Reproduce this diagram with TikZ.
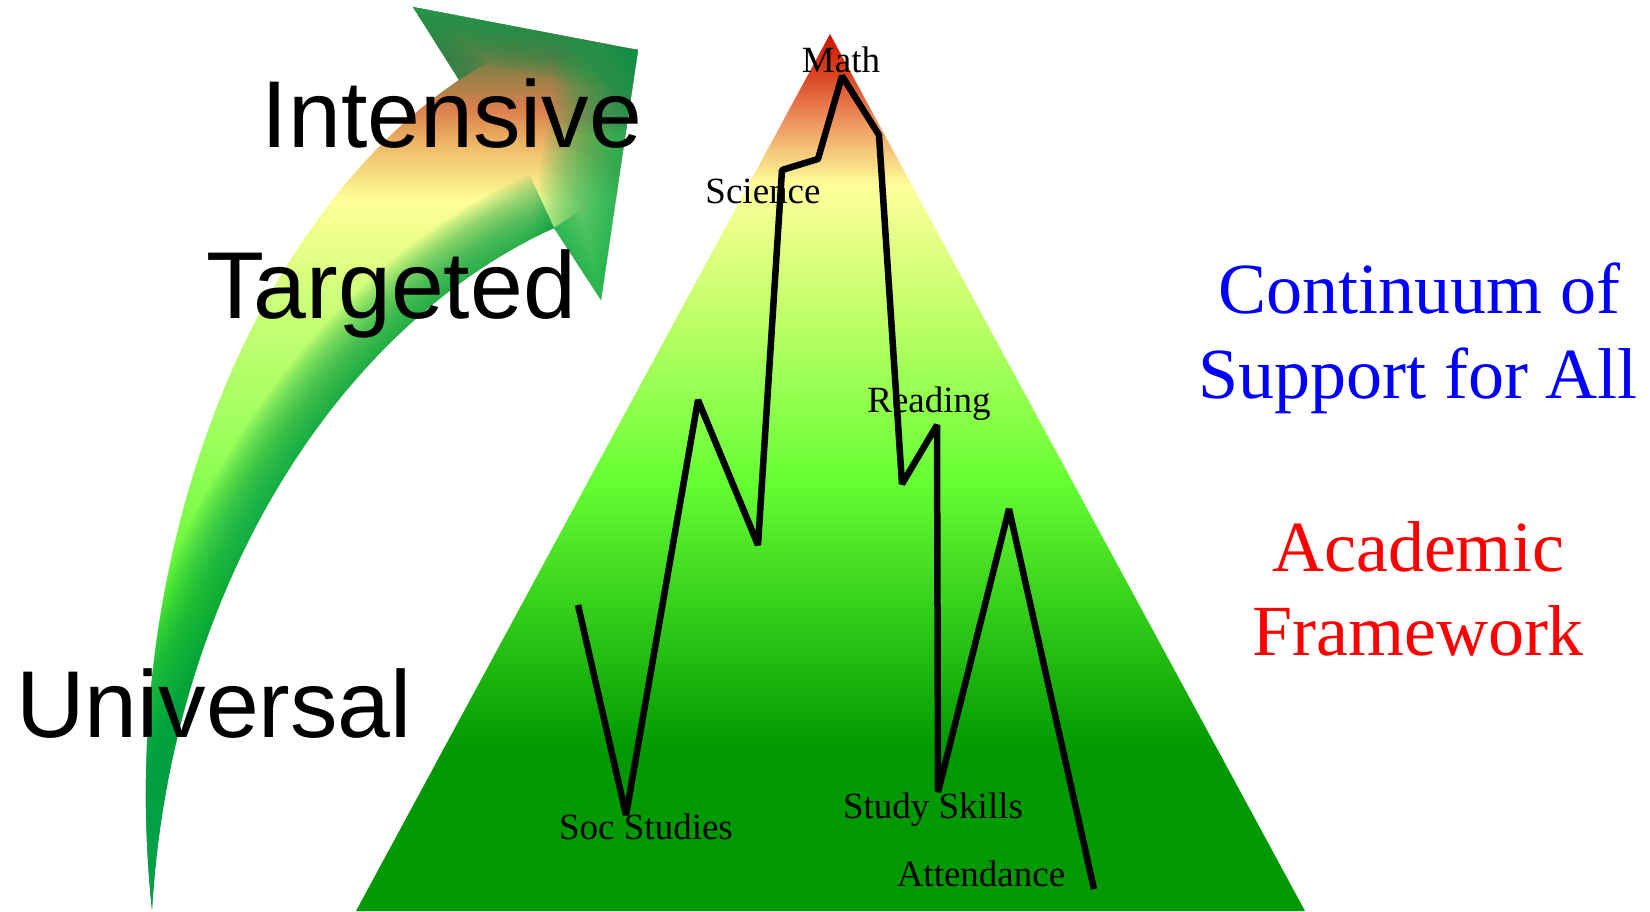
\documentclass[tikz,border=0pt]{standalone}
\usepackage{fontspec}
\setmainfont{Liberation Serif}
\newfontfamily\tierfont{Liberation Sans}
\usetikzlibrary{positioning}

\definecolor{headgreen}{RGB}{0,170,80}
\definecolor{edgegreen}{RGB}{0,160,70}
\definecolor{topgreen}{RGB}{40,150,70}

\pgfdeclareverticalshading{pyramidshade}{100bp}{%
  rgb(0bp)=(0,0.6,0); rgb(34.2bp)=(0,0.6,0); rgb(49.6bp)=(0.4,1,0.2);
  rgb(59.8bp)=(0.78,1,0.43); rgb(66.4bp)=(1,1,0.6); rgb(70.1bp)=(0.93,0.57,0.37);
  rgb(72.4bp)=(0.86,0.3,0.16); rgb(75bp)=(0.8,0.07,0); rgb(100bp)=(0.8,0.07,0)}

\pgfdeclareverticalshading{arrowshade}{100bp}{%
  rgb(0bp)=(0,0.65,0.31); rgb(25bp)=(0,0.65,0.31); rgb(33.8bp)=(0.08,0.75,0.24);
  rgb(42.1bp)=(0.35,0.96,0.2); rgb(50.3bp)=(0.59,1,0.35); rgb(58.5bp)=(0.8,1,0.47);
  rgb(64bp)=(1,1,0.59); rgb(66.8bp)=(0.94,0.75,0.42); rgb(69bp)=(0.86,0.5,0.3);
  rgb(71.7bp)=(0.47,0.5,0.27); rgb(75bp)=(0.12,0.59,0.27); rgb(100bp)=(0.12,0.59,0.27)}

\newcommand\arrowoutline{(tail) .. controls (115,560) and (250,220) .. (onotch) -- (btop) -- (tip) -- (blow) -- (inotch) .. controls (330,330) and (170,600) .. (tail) -- cycle}

\begin{document}
\begin{tikzpicture}[x=1pt, y=-1pt,
          subject/.style={inner sep=0pt, anchor=base, font=\fontsize{37}{44}\selectfont},
          tier/.style={inner sep=0pt, anchor=base, font=\tierfont\fontsize{95}{110}\selectfont},
          headline/.style={inner sep=0pt, anchor=base, font=\fontsize{72}{85}\selectfont},
          profile/.style={line width=6.5pt, line join=bevel, draw=black}]

        \useasboundingbox (0,0) rectangle (1650,911);
        \fill [white] (0,0) rectangle (1650,911);

        % curved arrow
        \coordinate (tail) at (152,909);
        \coordinate (onotch) at (459,80);
        \coordinate (btop) at (413,7);
        \coordinate (tip) at (638,50);
        \coordinate (blow) at (601,300);
        \coordinate (inotch) at (554,228);

        \begin{scope}
          \clip \arrowoutline;
          \shade [shading=arrowshade] (130,0) rectangle (650,911);
          \foreach \w in {4,8,...,160}
            \draw [headgreen, line width=\w pt, opacity=0.035, line join=round] (tip) -- (blow) -- (inotch);
          \foreach \w in {3,6,...,90}
            \draw [topgreen, line width=\w pt, opacity=0.045, line join=round] (onotch) -- (btop) -- (tip);
          \foreach \w in {3,6,...,120}
            \draw [edgegreen, line width=\w pt, opacity=0.035] (inotch) .. controls (330,330) and (170,600) .. (tail);
        \end{scope}

        % pyramid
        \coordinate (apex) at (830,34);
        \coordinate (baseleft) at (356,911);
        \coordinate (baseright) at (1305,911);
        \shade [shading=pyramidshade] (apex) -- (baseleft) -- (baseright) -- cycle;

        \draw [profile] (578,605) -- (626,815) -- (698,400) -- (758,545) -- (782,170) -- (818,159)
          -- (842,76) -- (879,135) -- (902,484) -- (937,425) -- (938,792) -- (1009,509) -- (1094,889);

        \node [subject] (math) at (841,72) {Math};
        \node [subject] (science) at (763,203) {Science};
        \node [subject] (reading) at (929,412) {Reading};
        \node [subject] (socstudies) at (646,839) {Soc Studies};
        \node [subject] (studyskills) at (933,818) {Study Skills};
        \node [subject] (attendance) at (981,886) {Attendance};

        \node [tier] (intensive) at (452,147) {Intensive};
        \node [tier] (targeted) at (391,318) {Targeted};
        \node [tier] (universal) at (214,737) {Universal};

        \node [headline, text=blue] (continuum) at (1419,313) {Continuum of};
        \node [headline, text=blue] (support) at (1418,398) {Support for All};
        \node [headline, text=red] (academic) at (1418,571) {Academic};
        \node [headline, text=red] (framework) at (1418,655) {Framework};
      \end{tikzpicture}
\end{document}
